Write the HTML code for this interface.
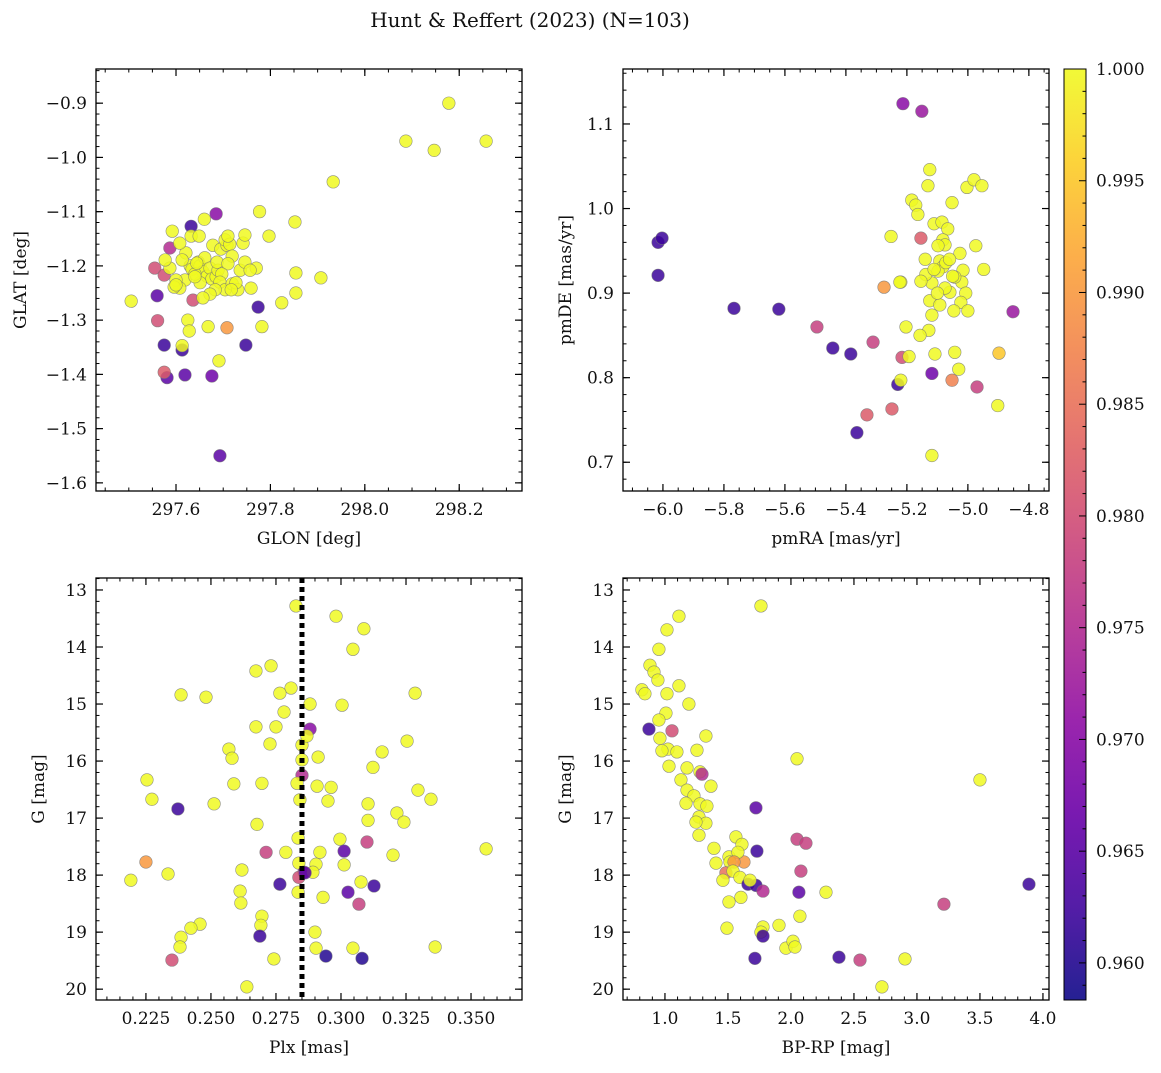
<!DOCTYPE html>
<html><head><meta charset="utf-8">
<style>
body{margin:0;background:#fff;}
svg text{font-family:"DejaVu Serif","Liberation Serif",serif;fill:#111;}
</style></head>
<body>
<svg id="fig" width="1161" height="1068" xmlns="http://www.w3.org/2000/svg">
<text x="530" y="27" font-size="20" text-anchor="middle">Hunt &amp; Reffert (2023) (N=103)</text>
</svg>
<script>
// ---- Panel 1: GLON vs GLAT ----
const p1x=[297.632,297.685,297.56,297.575,297.581,297.613,297.619,297.748,297.774,297.693,297.676,
297.555,297.575,297.561,297.575,297.587,297.636,297.708,
297.505,298.178,298.087,298.147,298.257,297.933,297.852,297.777,297.797,297.907,297.854,297.854,297.824,297.782,297.668,297.691,297.613,297.592,297.66,297.77,
297.632,297.649,297.621,297.630,297.634,297.647,297.651,297.661,297.657,297.666,297.672,297.676,297.685,297.689,297.687,297.678,297.695,297.708,297.704,297.714,297.719,297.710,297.697,297.693,297.704,297.719,297.731,297.727,297.736,297.746,297.742,297.746,297.757,297.759,297.683,297.672,297.651,297.640,297.619,297.608,297.6,297.587,297.596,297.625,297.628,297.608,297.577,297.613,297.657,297.644,297.717,297.710,297.640,297.600];
const p1y=[-1.127,-1.104,-1.255,-1.346,-1.406,-1.355,-1.401,-1.346,-1.276,-1.55,-1.403,
-1.204,-1.217,-1.301,-1.396,-1.167,-1.263,-1.314,
-1.265,-0.9,-0.97,-0.987,-0.97,-1.045,-1.119,-1.1,-1.145,-1.222,-1.213,-1.25,-1.268,-1.312,-1.312,-1.375,-1.347,-1.136,-1.114,-1.204,
-1.145,-1.145,-1.176,-1.2,-1.206,-1.193,-1.2,-1.185,-1.211,-1.219,-1.204,-1.224,-1.22,-1.208,-1.193,-1.162,-1.169,-1.162,-1.152,-1.16,-1.182,-1.196,-1.215,-1.23,-1.244,-1.233,-1.244,-1.231,-1.208,-1.193,-1.158,-1.143,-1.208,-1.241,-1.244,-1.252,-1.231,-1.215,-1.226,-1.241,-1.226,-1.204,-1.239,-1.3,-1.32,-1.158,-1.189,-1.189,-1.259,-1.195,-1.244,-1.145,-1.22,-1.235,-1.215];
const p1c=[0.962,0.97,0.965,0.962,0.965,0.962,0.965,0.962,0.962,0.965,0.967,
0.98,0.98,0.98,0.982,0.975,0.98,0.99];
// ---- Panel 2: pmRA vs pmDE ----
const p2x=[-6.016,-6.003,-6.016,-5.767,-5.62,-5.443,-5.384,-5.364,-5.23,-5.118,-5.213,-5.151,-4.852,
-5.495,-5.311,-5.331,-5.249,-5.216,-5.154,-5.052,-4.97,-5.275,-4.898,
-5.252,-5.22,-5.193,-5.22,-5.118,-4.902,-4.948,-5.125,-5.131,-5.003,-4.98,-4.954,-5.052,-5.184,-5.171,-5.164,-5.111,-5.085,-5.066,-5.082,-5.075,-5.098,-5.092,-5.082,-5.098,-5.072,-5.026,-4.974,-5.016,-5.02,-5.043,-5.007,-5.023,-5.059,-5.075,-5.118,-5.138,-5.154,-5.111,-5.125,-5.118,-5.092,-5.046,-5.0,-5.128,-5.157,-5.203,-5.108,-5.043,-5.223,-5.03,-5.06,-5.1,-5.14,-5.05];
const p2y=[0.96,0.965,0.921,0.882,0.881,0.835,0.828,0.735,0.792,0.805,1.124,1.115,0.878,
0.86,0.842,0.756,0.763,0.824,0.965,0.797,0.789,0.907,0.829,
0.967,0.913,0.825,0.797,0.708,0.767,0.928,1.046,1.027,1.025,1.034,1.027,1.007,1.01,1.004,0.993,0.982,0.984,0.976,0.963,0.957,0.956,0.938,0.931,0.926,0.936,0.947,0.956,0.927,0.913,0.919,0.9,0.889,0.901,0.906,0.912,0.922,0.914,0.928,0.891,0.874,0.886,0.879,0.879,0.856,0.85,0.86,0.828,0.83,0.913,0.81,0.94,0.9,0.94,0.92];
const p2c=[0.962,0.962,0.962,0.962,0.962,0.962,0.962,0.962,0.962,0.967,0.97,0.972,0.972,
0.978,0.978,0.982,0.982,0.98,0.982,0.987,0.978,0.99,0.995];
// ---- Panel 3: Plx vs G ----
const p3x=[0.2827,0.2981,0.3088,0.3046,0.2731,0.2673,0.2808,0.2765,0.2385,0.2481,0.3285,0.2781,0.2881,0.3004,0.2673,0.275,0.2727,0.2569,0.2581,0.285,0.2881,0.2869,0.3158,0.3254,0.3123,0.285,0.285,0.2912,0.2908,0.2962,0.2696,0.2588,0.2254,0.2273,0.2831,0.2842,0.295,0.3104,0.3296,0.3346,0.3104,0.3215,0.3242,0.2512,0.2677,0.2373,0.2835,0.2996,0.31,0.2919,0.3012,0.3012,0.2712,0.2788,0.2838,0.2904,0.2858,0.32,0.3558,0.225,0.2619,0.2335,0.2838,0.2892,0.2765,0.2862,0.3077,0.3127,0.3027,0.2192,0.2612,0.2835,0.2931,0.2696,0.3069,0.2615,0.2692,0.2688,0.2458,0.2423,0.2385,0.2381,0.29,0.2742,0.3362,0.2904,0.2942,0.3081,0.3046,0.235,0.2638];
const p3y=[13.28,13.46,13.68,14.04,14.33,14.42,14.72,14.81,14.84,14.88,14.81,15.14,15.0,15.02,15.4,15.4,15.7,15.79,15.95,15.72,15.44,15.56,15.84,15.65,16.11,16.25,15.98,15.93,16.44,16.46,16.39,16.4,16.33,16.67,16.39,16.68,16.7,16.75,16.51,16.67,17.04,16.91,17.07,16.75,17.11,16.84,17.35,17.37,17.42,17.6,17.82,17.58,17.6,17.6,17.79,17.81,17.95,17.65,17.54,17.77,17.91,17.98,18.04,17.95,18.16,17.96,18.12,18.19,18.3,18.09,18.28,18.3,18.39,18.72,18.51,18.49,18.88,19.07,18.86,18.93,19.09,19.26,19.0,19.47,19.26,19.28,19.42,19.46,19.28,19.49,19.96];
const p3c=[1,1,1,1,1,1,1,1,1,1,1,1,1,1,1,1,1,1,1,1,0.97,1,1,1,1,0.975,1,1,1,1,1,1,1,1,1,1,1,1,1,1,1,1,1,1,1,0.962,1,1,0.978,1,1,0.965,0.978,1,1,1,0.972,1,1,0.99,1,1,0.98,1,0.962,0.965,1,0.962,0.965,1,1,1,1,1,0.978,1,1,0.962,1,1,1,1,1,1,1,1,0.96,0.96,1,0.98,1];
// ---- Panel 4: BP-RP vs G ----
const p4x=[1.762,1.111,1.016,0.952,0.881,0.817,0.841,0.913,0.944,1.016,1.008,1.111,1.19,0.952,0.873,0.96,1.056,1.024,0.976,1.032,1.095,1.254,1.325,1.175,1.127,1.278,1.365,1.175,1.23,1.294,1.167,1.278,1.333,1.27,1.325,1.27,1.246,1.389,1.563,1.611,1.508,1.516,1.405,1.627,1.579,1.548,1.484,1.54,1.46,1.595,1.659,1.722,1.778,1.675,1.508,1.603,1.492,1.778,1.762,1.905,1.778,1.96,2.016,2.032,2.071,2.278,1.714,2.048,2.119,2.079,2.063,2.048,1.722,1.73,2.381,2.548,2.722,2.905,3.214,3.5,3.889];
const p4y=[13.28,13.46,13.7,14.04,14.32,14.75,14.82,14.44,14.58,14.82,15.16,14.68,15.0,15.28,15.44,15.6,15.47,15.79,15.82,16.09,15.84,15.81,15.56,16.12,16.33,16.19,16.44,16.51,16.61,16.23,16.74,16.75,16.79,16.98,17.09,17.3,17.07,17.53,17.33,17.46,17.68,17.77,17.79,17.77,17.6,17.77,17.96,17.93,18.09,18.04,18.16,18.18,18.28,18.09,18.47,18.39,18.93,18.91,19.0,18.88,19.07,19.28,19.16,19.26,18.72,18.3,19.46,17.37,17.44,17.93,18.3,15.96,16.82,17.58,19.44,19.49,19.96,19.47,18.51,16.33,18.16];
const p4c=[1,1,1,1,1,1,1,1,1,1,1,1,1,1,0.962,1,0.98,1,1,1,1,1,1,1,1,1,1,1,1,0.975,1,1,1,1,1,1,1,1,1,1,1,1,1,0.99,1,0.99,0.985,1,1,1,0.962,0.962,0.975,1,1,1,1,1,1,1,0.962,1,1,1,1,1,0.962,0.978,0.978,0.978,0.965,1,0.965,0.962,0.962,0.978,1,1,0.978,1,0.962];

const NS='http://www.w3.org/2000/svg';
const svg=document.getElementById('fig');
const CMIN=0.95834,CMAX=1.0;
const stops=[[13,8,135],[65,4,157],[106,0,168],[143,13,164],[177,42,144],[204,71,120],[225,100,98],[242,132,75],[252,166,54],[252,206,37],[240,249,33]];
function plasma(t){t=Math.max(0,Math.min(1,t));const f=t*10,i=Math.min(9,Math.floor(f)),u=f-i;const a=stops[i],b=stops[i+1];return 'rgb('+a.map((v,k)=>Math.round(v+(b[k]-v)*u)).join(',')+')';}
function cmap(c){return plasma((c-CMIN)/(CMAX-CMIN));}
function mk(tag,attrs,parent){const e=document.createElementNS(NS,tag);for(const k in attrs)e.setAttribute(k,attrs[k]);(parent||svg).appendChild(e);return e;}
function fmt(v,d){let s=v.toFixed(d);if(v<0)s='\u2212'+s.slice(1);return s;}

function panel(o){
  const g=mk('g',{});
  
  
  const sx=v=>o.x0+(v-o.xmin)/(o.xmax-o.xmin)*(o.x1-o.x0);
  const sy=o.inv?(v=>o.y0+(v-o.ymin)/(o.ymax-o.ymin)*(o.y1-o.y0)):(v=>o.y1-(v-o.ymin)/(o.ymax-o.ymin)*(o.y1-o.y0));
  // points
  const pg=mk('g',{},g);
  
  
  for(let i=0;i<o.xs.length;i++){
    const c=(o.cs[i]!==undefined)?o.cs[i]:1.0;
    const p=mk('circle',{cx:sx(o.xs[i]),cy:sy(o.ys[i]),r:6.3,fill:cmap(c),'fill-opacity':0.85,stroke:'#777','stroke-width':0.6,'stroke-opacity':0.8},pg);
    
    
  }
  if(o.extra)o.extra(g,sx,sy);
  // frame
  const fr=mk('rect',{x:o.x0,y:o.y0,width:o.x1-o.x0,height:o.y1-o.y0,fill:'none',stroke:'#000','stroke-width':1.3},g);
  
  
  // ticks
  const eps=1e-9;
  function ticks(min,max,step,fn){const out=[];const s=Math.ceil(min/step-eps);for(let k=s;k*step<=max+eps;k++)out.push(k*step);return out;}
  ticks(o.xmin,o.xmax,o.xminor).forEach(v=>{const X=sx(v);mk('line',{x1:X,x2:X,y1:o.y1,y2:o.y1-3.5,stroke:'#000','stroke-width':1},g);mk('line',{x1:X,x2:X,y1:o.y0,y2:o.y0+3.5,stroke:'#000','stroke-width':1},g);});
  ticks(o.ymin,o.ymax,o.yminor).forEach(v=>{const Y=sy(v);mk('line',{x1:o.x0,x2:o.x0+3.5,y1:Y,y2:Y,stroke:'#000','stroke-width':1},g);mk('line',{x1:o.x1,x2:o.x1-3.5,y1:Y,y2:Y,stroke:'#000','stroke-width':1},g);});
  o.xticks.forEach(v=>{const X=sx(v);mk('line',{x1:X,x2:X,y1:o.y1,y2:o.y1-7,stroke:'#000','stroke-width':1.2},g);mk('line',{x1:X,x2:X,y1:o.y0,y2:o.y0+7,stroke:'#000','stroke-width':1.2},g);
    const t=mk('text',{x:X,y:o.y1+24,'font-size':17,'text-anchor':'middle'},g);t.textContent=fmt(v,o.xd);
    
    });
  o.yticks.forEach(v=>{const Y=sy(v);mk('line',{x1:o.x0,x2:o.x0+7,y1:Y,y2:Y,stroke:'#000','stroke-width':1.2},g);mk('line',{x1:o.x1,x2:o.x1-7,y1:Y,y2:Y,stroke:'#000','stroke-width':1.2},g);
    const t=mk('text',{x:o.x0-9,y:Y+6,'font-size':17,'text-anchor':'end'},g);t.textContent=fmt(v,o.yd);
    
    });
  const xl=mk('text',{x:(o.x0+o.x1)/2,y:o.y1+53,'font-size':17,'text-anchor':'middle'},g);xl.textContent=o.xlabel;
  
  
  const yx=o.x0-o.ylo,yy=(o.y0+o.y1)/2;
  const yl=mk('text',{x:yx,y:yy,'font-size':17,'text-anchor':'middle',transform:'rotate(-90 '+yx+' '+yy+')'},g);yl.textContent=o.ylabel;
  
  
}
const r=(a,b,s)=>{const o=[];for(let k=0;a+k*s<=b+1e-9;k++)o.push(+(a+k*s).toFixed(4));return o;};
panel({name:'glon-glat-panel',x0:96,x1:522,y0:69,y1:491,xmin:297.4305,xmax:298.333,ymin:-1.615,ymax:-0.837,xs:p1x,ys:p1y,cs:p1c,
 xticks:r(297.6,298.2,0.2),yticks:r(-1.6,-0.9,0.1),xminor:0.05,yminor:0.02,xd:1,yd:1,xlabel:'GLON [deg]',ylabel:'GLAT [deg]',ylo:70});
panel({name:'pm-panel',x0:623,x1:1049,y0:69,y1:491,xmin:-6.131,xmax:-4.734,ymin:0.666,ymax:1.165,xs:p2x,ys:p2y,cs:p2c,
 xticks:r(-6.0,-4.8,0.2),yticks:r(0.7,1.1,0.1),xminor:0.05,yminor:0.02,xd:1,yd:1,xlabel:'pmRA [mas/yr]',ylabel:'pmDE [mas/yr]',ylo:52});
const plxMarker=[0.285];
panel({name:'plx-g-panel',x0:96,x1:522,y0:578,y1:1000,xmin:0.2058,xmax:0.3696,ymin:12.79,ymax:20.19,inv:true,xs:p3x,ys:p3y,cs:p3c,
 xticks:r(0.225,0.35,0.025),yticks:r(13,20,1),xminor:0.005,yminor:0.2,xd:3,yd:0,xlabel:'Plx [mas]',ylabel:'G [mag]',ylo:52,
 extra:(g,sx,sy)=>{const X=sx(plxMarker[0]);const l=mk('line',{x1:X,x2:X,y1:578,y2:1000,stroke:'#000','stroke-width':5,'stroke-dasharray':'5,4'},g);
   
   }});
panel({name:'cmd-panel',x0:623,x1:1049,y0:578,y1:1000,xmin:0.667,xmax:4.048,ymin:12.79,ymax:20.19,inv:true,xs:p4x,ys:p4y,cs:p4c,
 xticks:r(1.0,4.0,0.5),yticks:r(13,20,1),xminor:0.1,yminor:0.2,xd:1,yd:0,xlabel:'BP-RP [mag]',ylabel:'G [mag]',ylo:52});

// colorbar
(function(){
  const cb=mk('g',{});
  
  
  const x0=1064,x1=1086,y0=69,y1=1000;
  const defs=mk('defs',{},cb);
  const lg=mk('linearGradient',{id:'cbg',x1:0,y1:1,x2:0,y2:0},defs);
  for(let i=0;i<=20;i++){mk('stop',{offset:i/20,'stop-color':plasma(i/20),'stop-opacity':0.9},lg);}
  mk('rect',{x:x0,y:y0,width:x1-x0,height:y1-y0,fill:'url(#cbg)',stroke:'#000','stroke-width':1},cb);
  const sy=v=>y1-(v-CMIN)/(CMAX-CMIN)*(y1-y0);
  for(let k=959;k<=1000;k++){const v=k/1000;const Y=sy(v);const maj=(k%5===0);
    mk('line',{x1:x1,x2:x1-(maj?7:3.5),y1:Y,y2:Y,stroke:'#000','stroke-width':1},cb);
    if(maj){const t=mk('text',{x:x1+10,y:Y+6,'font-size':17},cb);t.textContent=v.toFixed(3);
      
      }}
})();
</script>
</body></html>
